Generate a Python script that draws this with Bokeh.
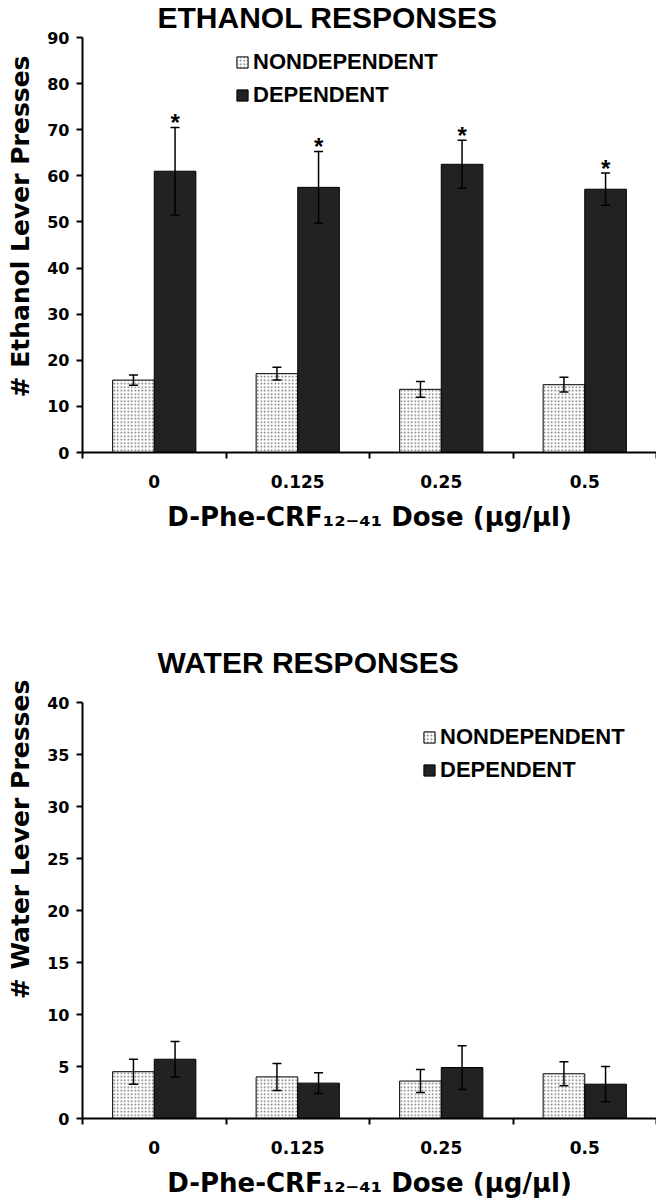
from bokeh.plotting import figure
from bokeh.models import (ColumnDataSource, Range1d, LinearAxis,
                          FixedTicker, Whisker, TeeHead, Legend, LegendItem, Label)
from bokeh.transform import dodge
from bokeh.layouts import column
from bokeh.embed import file_html
from bokeh.resources import INLINE

# ---------------- data ----------------
doses = ["0", "0.125", "0.25", "0.5"]
groups = ["NONDEPENDENT", "DEPENDENT"]

eth_nondep = [15.7, 17.1, 13.7, 14.7]
eth_nondep_err = [1.1, 1.4, 1.7, 1.6]
eth_dep = [61.0, 57.5, 62.5, 57.1]
eth_dep_err = [9.5, 7.8, 5.2, 3.5]
eth_sig = ["*", "*", "*", "*"]
eth_ticks = [0, 10, 20, 30, 40, 50, 60, 70, 80, 90]

wat_nondep = [4.5, 4.0, 3.6, 4.3]
wat_nondep_err = [1.2, 1.3, 1.1, 1.15]
wat_dep = [5.7, 3.4, 4.9, 3.3]
wat_dep_err = [1.7, 1.0, 2.1, 1.7]
wat_ticks = [0, 5, 10, 15, 20, 25, 30, 35, 40]

x_label = "D-Phe-CRF\u2081\u2082\u208B\u2084\u2081 Dose (\u00b5g/\u00b5l)"

VFONT = "DejaVu Sans"
AFONT = "Liberation Sans"
DARK = "#222222"
OFF = 0.145
BW = 0.29
FRAME_LEFT = 82
FRAME_W = 574


def make_chart(title, ylabel, ymax, yticks, nondep, nondep_err, dep, dep_err, sig,
               frame_h, axis_px, mb_bottom, title_from_top, legend_xy):
    n = len(doses)
    centers = [i + 0.5 for i in range(n)]
    edges = list(range(n + 1))
    # the frame extends above the y axis so that the title can sit inside it
    view_top = ymax * frame_h / axis_px
    p = figure(x_range=Range1d(0, n), y_range=Range1d(0, view_top),
               frame_width=FRAME_W, frame_height=frame_h,
               min_border_left=FRAME_LEFT, min_border_right=0,
               min_border_top=0, min_border_bottom=mb_bottom,
               x_axis_location=None, y_axis_location=None,
               output_backend="svg", toolbar_location=None)
    p.outline_line_color = None
    p.xgrid.visible = False
    p.ygrid.visible = False
    p.background_fill_color = "white"
    p.border_fill_color = "white"

    # y axis
    yaxis = LinearAxis(ticker=FixedTicker(ticks=yticks), axis_label=ylabel, bounds=(0, ymax))
    yaxis.axis_line_width = 2
    yaxis.major_tick_line_width = 2
    yaxis.major_tick_out = 6
    yaxis.major_tick_in = 0
    yaxis.minor_tick_line_color = None
    yaxis.major_label_text_font = VFONT
    yaxis.major_label_text_font_style = "bold"
    yaxis.major_label_text_font_size = "16px"
    yaxis.major_label_text_color = "black"
    yaxis.major_label_standoff = 7
    yaxis.axis_label_text_font = VFONT
    yaxis.axis_label_text_font_style = "bold"
    yaxis.axis_label_text_font_size = "25px"
    yaxis.axis_label_text_color = "black"
    yaxis.axis_label_standoff = 9
    p.add_layout(yaxis, "left")

    # x axis: boundary ticks (minor) + category labels at centres
    xaxis = LinearAxis(ticker=FixedTicker(ticks=centers, minor_ticks=edges),
                       axis_label=x_label,
                       major_label_overrides={c: d for c, d in zip(centers, doses)})
    xaxis.axis_line_width = 2
    xaxis.major_tick_line_color = None
    xaxis.major_tick_out = 0
    xaxis.major_tick_in = 0
    xaxis.minor_tick_line_color = "black"
    xaxis.minor_tick_line_width = 2
    xaxis.minor_tick_out = 6
    xaxis.minor_tick_in = 0
    xaxis.major_label_text_font = VFONT
    xaxis.major_label_text_font_style = "bold"
    xaxis.major_label_text_font_size = "17px"
    xaxis.major_label_text_color = "black"
    xaxis.major_label_standoff = 16
    xaxis.axis_label_text_font = VFONT
    xaxis.axis_label_text_font_style = "bold"
    xaxis.axis_label_text_font_size = "26px"
    xaxis.axis_label_text_color = "black"
    xaxis.axis_label_standoff = 11
    p.add_layout(xaxis, "below")

    src = ColumnDataSource(dict(
        xc=centers,
        dose=doses,
        nondep=nondep,
        nondep_lo=[v - e for v, e in zip(nondep, nondep_err)],
        nondep_hi=[v + e for v, e in zip(nondep, nondep_err)],
        dep=dep,
        dep_lo=[v - e for v, e in zip(dep, dep_err)],
        dep_hi=[v + e for v, e in zip(dep, dep_err)],
    ))

    r1 = p.vbar(x=dodge("xc", -OFF), top="nondep", width=BW, source=src,
                fill_color="white", line_color="black", line_width=1,
                hatch_pattern="dot", hatch_color="#6a6a6a", hatch_scale=3.5, hatch_weight=1.2)
    r2 = p.vbar(x=dodge("xc", OFF), top="dep", width=BW, source=src,
                fill_color=DARK, line_color="black", line_width=1)

    for key, off in (("nondep", -OFF), ("dep", OFF)):
        w = Whisker(base=dodge("xc", off),
                    upper=key + "_hi", lower=key + "_lo", source=src, level="overlay",
                    line_color="black", line_width=1.5,
                    upper_head=TeeHead(size=9, line_width=1.5, line_color="black"),
                    lower_head=TeeHead(size=9, line_width=1.5, line_color="black"))
        p.add_layout(w)

    if sig:
        src.data["sig"] = sig
        p.text(x=dodge("xc", OFF), y="dep_hi", text="sig", source=src,
               text_align="center", text_baseline="alphabetic", y_offset=-5,
               text_font={"value": AFONT}, text_font_size="24px", text_font_style="bold",
               text_color="black")

    legend = Legend(items=[LegendItem(label=groups[0], renderers=[r1]),
                           LegendItem(label=groups[1], renderers=[r2])],
                    location=legend_xy)
    legend.background_fill_alpha = 0
    legend.border_line_color = None
    legend.padding = 0
    legend.margin = 0
    legend.spacing = 7
    legend.glyph_width = 14
    legend.glyph_height = 14
    legend.label_height = 25
    legend.label_standoff = 4
    legend.label_text_font = AFONT
    legend.label_text_font_style = "bold"
    legend.label_text_font_size = "22px"
    legend.label_text_color = "black"
    legend.label_text_baseline = "middle"
    p.add_layout(legend)

    t = Label(x=75, y=frame_h - title_from_top, x_units="screen", y_units="screen",
              text=title, text_align="left", text_baseline="middle",
              text_font=AFONT, text_font_style="bold", text_font_size="30px",
              text_color="black")
    p.add_layout(t)
    return p


# top chart: frame spans page y 0..452, y axis 0..90 over the lowest 415 px
top = make_chart("ETHANOL RESPONSES", "# Ethanol Lever Presses", 90, eth_ticks,
                 eth_nondep, eth_nondep_err, eth_dep, eth_dep_err, eth_sig,
                 frame_h=452, axis_px=415, mb_bottom=108, title_from_top=17,
                 legend_xy=(153, 344))
# bottom chart: figure starts at page y 560, frame to 1118, axis 0..40 over 416 px
bot = make_chart("WATER RESPONSES", "# Water Lever Presses", 40, wat_ticks,
                 wat_nondep, wat_nondep_err, wat_dep, wat_dep_err, None,
                 frame_h=558, axis_px=416, mb_bottom=78, title_from_top=102,
                 legend_xy=(340, 335))

layout = column(top, bot, spacing=0)
open("out.html", "w").write(file_html(layout, INLINE))
